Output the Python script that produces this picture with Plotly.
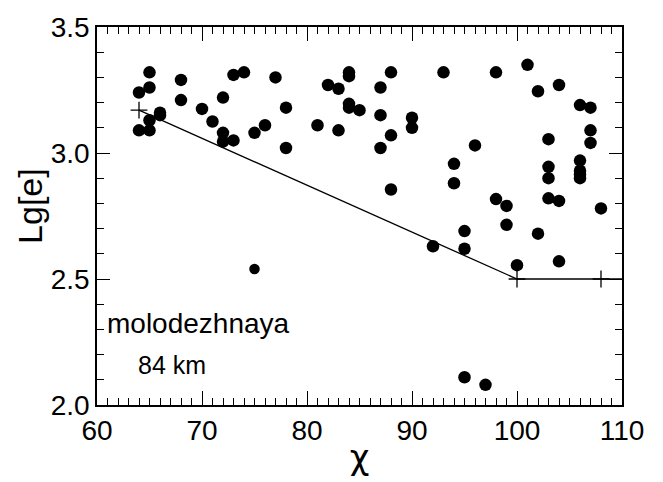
import plotly.graph_objects as go

# Scatter of event measurements: chi vs Lg[e]
chi = [65, 64, 65, 68, 68, 73, 74, 77, 82, 83, 84, 84, 87, 72, 70, 66, 66, 65,
       64, 65, 71, 72, 72, 73, 75, 76, 78, 78, 81, 83, 84, 84, 85, 87, 87,
       88, 93, 98, 101, 102, 104, 106, 107, 90, 90, 88, 107, 107, 103, 96,
       94, 88, 94, 103, 103, 106, 106, 106, 106, 98, 99, 103, 104, 108,
       95, 99, 102, 92, 95, 100, 104, 95, 97]
lg_e = [3.32, 3.24, 3.26, 3.29, 3.21, 3.31, 3.32, 3.30, 3.27, 3.255, 3.32, 3.305,
        3.26, 3.22, 3.175, 3.16, 3.15, 3.13, 3.09, 3.09, 3.125, 3.08, 3.045,
        3.05, 3.08, 3.11, 3.18, 3.02, 3.11, 3.09, 3.195, 3.18, 3.17, 3.15, 3.02,
        3.32, 3.32, 3.32, 3.35, 3.245, 3.27, 3.19, 3.18, 3.14, 3.10, 3.07,
        3.09, 3.04, 3.055, 3.03, 2.957, 2.855, 2.88, 2.945, 2.90, 2.97, 2.93,
        2.915, 2.90, 2.817, 2.79, 2.82, 2.81, 2.78, 2.69, 2.715, 2.68, 2.63,
        2.62, 2.555, 2.57, 2.11, 2.08]

# Smaller isolated event
chi_small = [75]
lg_e_small = [2.54]

# Threshold boundary line and its vertices
line_chi = [64, 100, 112]
line_lg = [3.17, 2.5, 2.5]
vertex_chi = [64, 100, 108]
vertex_lg = [3.17, 2.5, 2.5]

x_ticks = [60, 70, 80, 90, 100, 110]
y_ticks = [2.0, 2.5, 3.0, 3.5]

station = "molodezhnaya"
distance = "84 km"

FONT = "Liberation Sans, Arial, Helvetica, sans-serif"

fig = go.Figure()
fig.add_trace(go.Scatter(x=line_chi, y=line_lg, mode="lines",
                         line=dict(color="black", width=1.3),
                         showlegend=False, hoverinfo="skip"))
fig.add_trace(go.Scatter(x=vertex_chi, y=vertex_lg, mode="markers",
                         marker=dict(symbol="cross-thin", size=12,
                                     line=dict(color="black", width=1.3)),
                         showlegend=False, cliponaxis=False))
fig.add_trace(go.Scatter(x=chi, y=lg_e, mode="markers",
                         marker=dict(color="black", size=12.5),
                         showlegend=False))
fig.add_trace(go.Scatter(x=chi_small, y=lg_e_small, mode="markers",
                         marker=dict(color="black", size=10.5),
                         showlegend=False))

axis_common = dict(showline=True, linecolor="black", linewidth=1.5,
                   mirror="ticks", ticks="inside", tickcolor="black",
                   showgrid=False, zeroline=False,
                   tickfont=dict(family=FONT, size=28, color="black"))

fig.update_xaxes(range=[60, 110], tickvals=x_ticks,
                 ticktext=[str(v) for v in x_ticks], ticklen=14, tickwidth=1.2,
                 minor=dict(ticks="inside", dtick=1, ticklen=7,
                            tickcolor="black", tickwidth=1),
                 title=dict(text="χ", font=dict(family="DejaVu Sans, sans-serif",
                                                size=34, color="black"),
                            standoff=0),
                 **axis_common)
fig.update_yaxes(range=[2.0, 3.5], tickvals=y_ticks,
                 ticktext=[f"{v:.1f}" for v in y_ticks], ticklen=13, tickwidth=1.2,
                 minor=dict(ticks="inside", dtick=0.1, ticklen=7,
                            tickcolor="black", tickwidth=1),
                 **axis_common)

# Vertical y-axis label
fig.add_annotation(x=30, y=207, xref="paper", yref="paper", text="Lg[e]",
                   textangle=-90, showarrow=False,
                   xanchor="center", yanchor="middle",
                   font=dict(family=FONT, size=34, color="black"))

fig.add_annotation(x=60.8, y=2.322, xref="x", yref="y", text=station,
                   showarrow=False, xanchor="left", yanchor="middle",
                   font=dict(family=FONT, size=28, color="black"))
fig.add_annotation(x=63.7, y=2.158, xref="x", yref="y", text=distance,
                   showarrow=False, xanchor="left", yanchor="middle",
                   font=dict(family=FONT, size=25, color="black"))

# Position the y label in pixel terms relative to the plotting area
W, H = 663, 482
L, R, T, B = 97, 41, 21, 68
ann = fig.layout.annotations[0]
ann.x = (30 - L) / (W - L - R)
ann.y = 1 - (207 - T) / (H - T - B)

fig.update_layout(width=W, height=H,
                  margin=dict(l=L, r=R, t=T, b=B),
                  plot_bgcolor="white", paper_bgcolor="white")

fig.write_html("out.html")
